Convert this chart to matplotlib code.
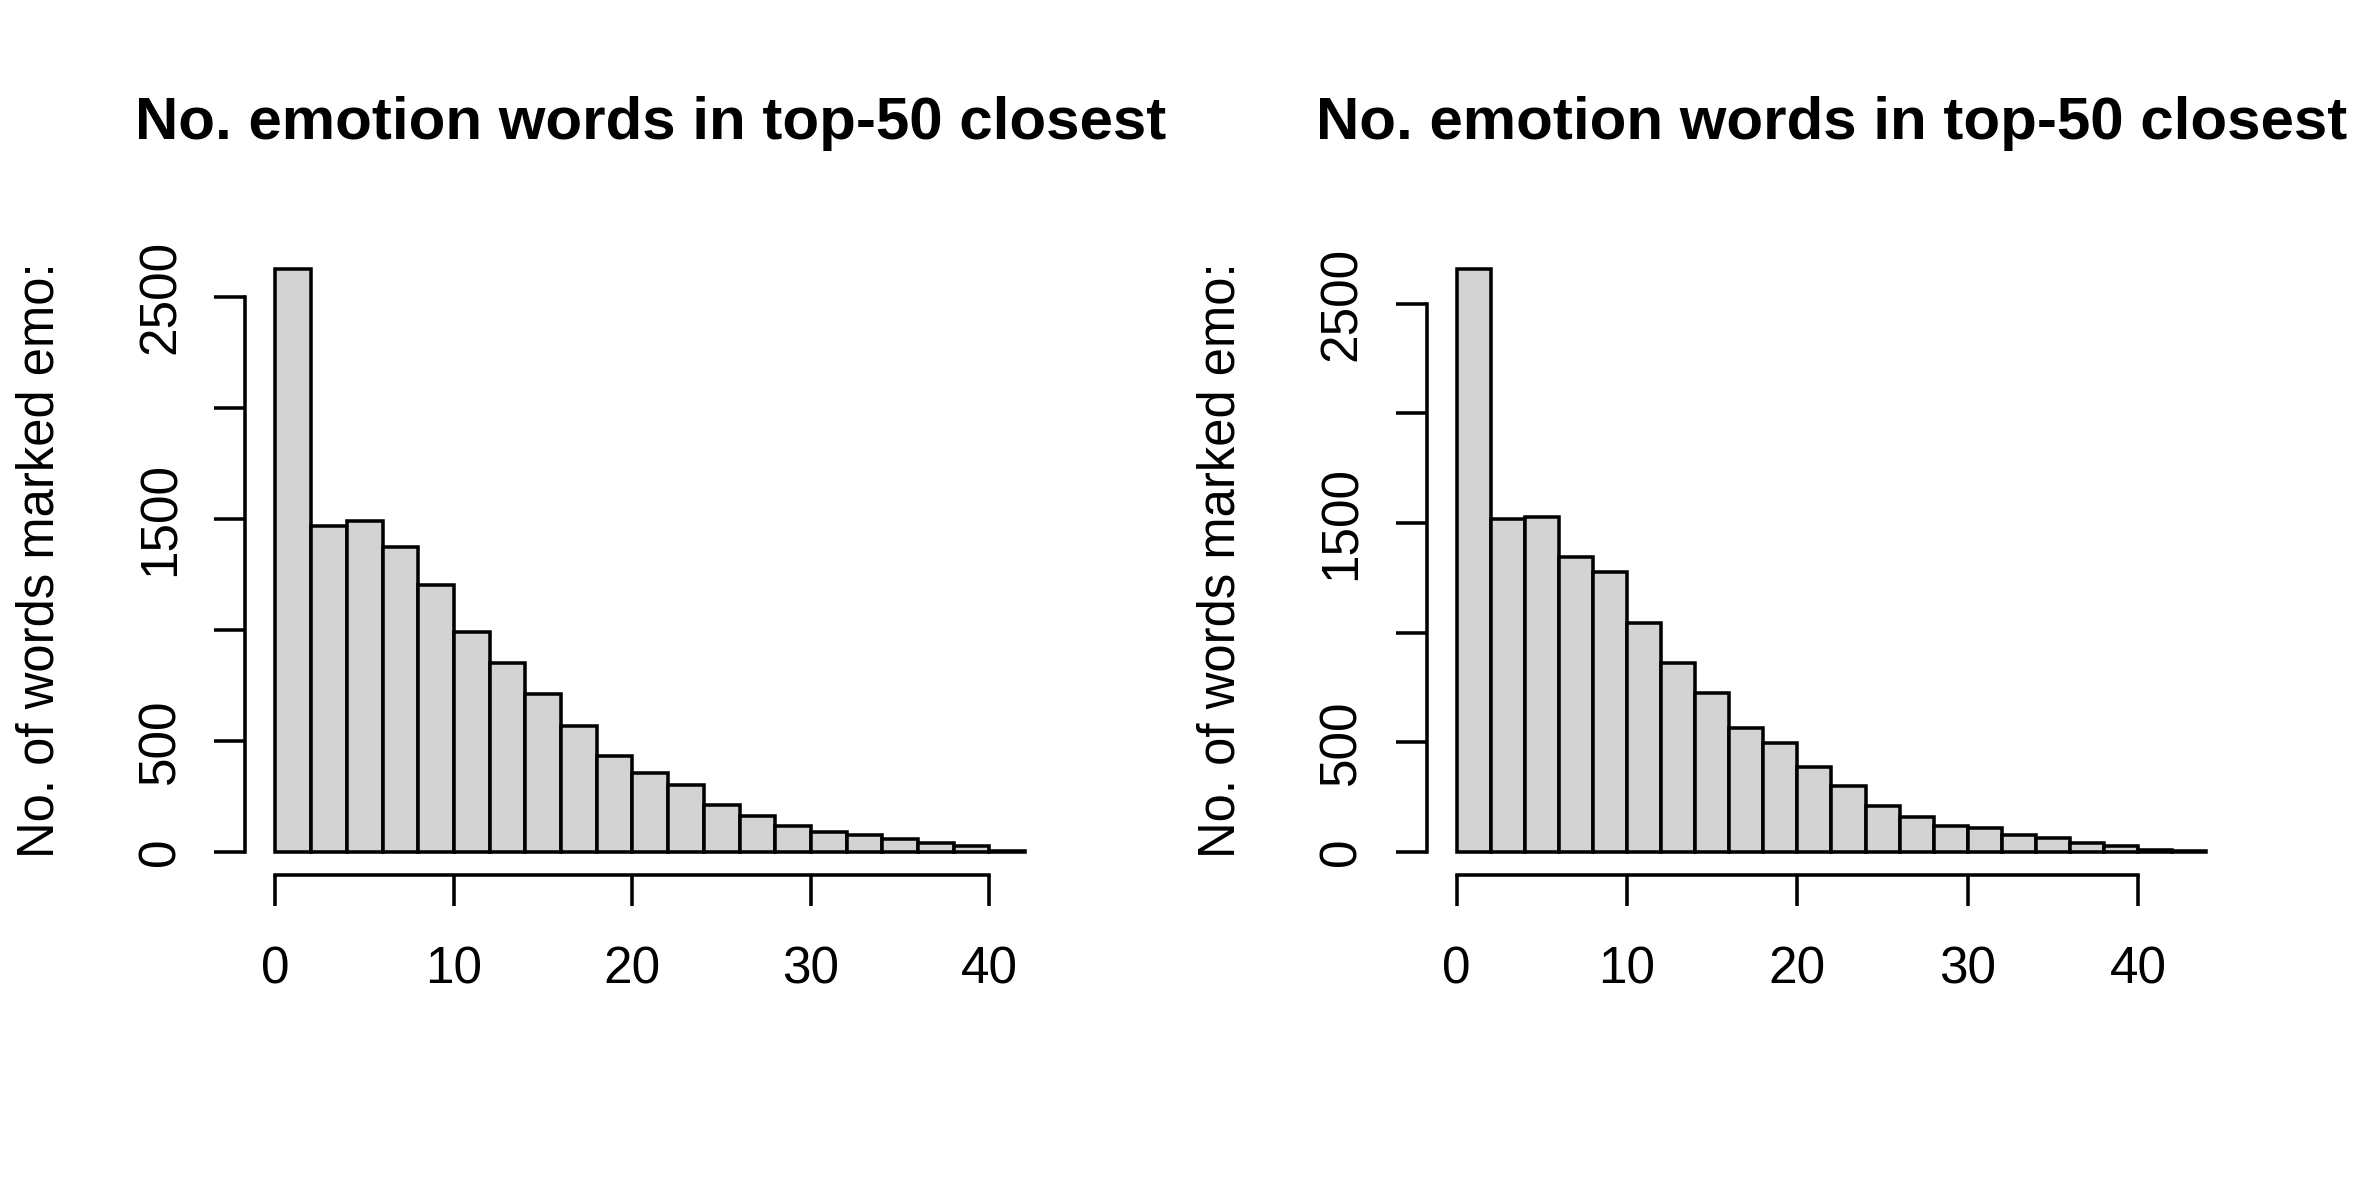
import numpy as np
import matplotlib
matplotlib.use("Agg")
import matplotlib.pyplot as plt

plt.rcParams['font.family'] = ['Liberation Sans', 'DejaVu Sans']

# histogram counts (bins of width 2)
left_edges = [0, 2, 4, 6, 8, 10, 12, 14, 16, 18, 20, 22, 24, 26, 28, 30, 32, 34, 36, 38, 40, 42]
left_counts = [2625, 1468, 1489, 1373, 1200, 989, 851, 713, 565, 433, 354,
               299, 209, 160, 118, 91, 76, 56, 37, 26, 5]

right_edges = [0, 2, 4, 6, 8, 10, 12, 14, 16, 18, 20, 22, 24, 26, 28, 30, 32, 34, 36, 38, 40, 42, 44]
right_counts = [2657, 1516, 1529, 1344, 1276, 1043, 859, 725, 566, 498, 386,
                301, 210, 159, 117, 106, 76, 61, 42, 26, 6, 1]

title = "No. emotion words in top-50 closest"
ylab = "No. of words marked emo:"
xticks = [0, 10, 20, 30, 40]
yticks = [0, 500, 1000, 1500, 2000, 2500]
ytick_labels = ['0', '500', '', '1500', '', '2500']


def r_hist(ax, edges, counts):
    edges = np.array(edges)
    counts = np.array(counts)
    ax.bar(edges[:-1], counts, width=np.diff(edges), align='edge',
           color='#D3D3D3', edgecolor='black', linewidth=0.85)
    span = edges[-1] - edges[0]
    ax.set_xlim(edges[0] - 0.04 * span, edges[-1] + 0.04 * span)
    ax.set_ylim(-0.04 * counts.max(), 1.04 * counts.max())

    ax.spines['top'].set_visible(False)
    ax.spines['right'].set_visible(False)
    ax.spines['left'].set_bounds(yticks[0], yticks[-1])
    ax.spines['bottom'].set_bounds(xticks[0], xticks[-1])
    ax.spines['left'].set_linewidth(0.85)
    ax.spines['bottom'].set_linewidth(0.85)

    ax.set_xticks(xticks)
    ax.set_yticks(yticks)
    ax.set_yticklabels(ytick_labels)
    ax.tick_params(length=7.4, width=0.85, labelsize=12.3, colors='black')
    ax.tick_params(axis='x', pad=9.5)
    ax.tick_params(axis='y', pad=7)
    for lab in ax.get_yticklabels():
        lab.set_rotation(90)
        lab.set_va('center')

    ax.set_ylabel(ylab, fontsize=12.2)
    ax.yaxis.set_label_coords(-0.224, 0.5)
    ax.text(0.5, 1.17, title, transform=ax.transAxes, ha='center',
            va='baseline', fontsize=14.4, fontweight='bold')


fig = plt.figure(figsize=(2362 / 300, 1181 / 300), dpi=300)

ax1 = fig.add_axes([0.1039, 0.2591, 0.3428, 0.5326])
r_hist(ax1, left_edges, left_counts)

ax2 = fig.add_axes([0.6040, 0.2591, 0.3428, 0.5326])
r_hist(ax2, right_edges, right_counts)

fig.savefig("out.png", dpi=300, facecolor='white')
